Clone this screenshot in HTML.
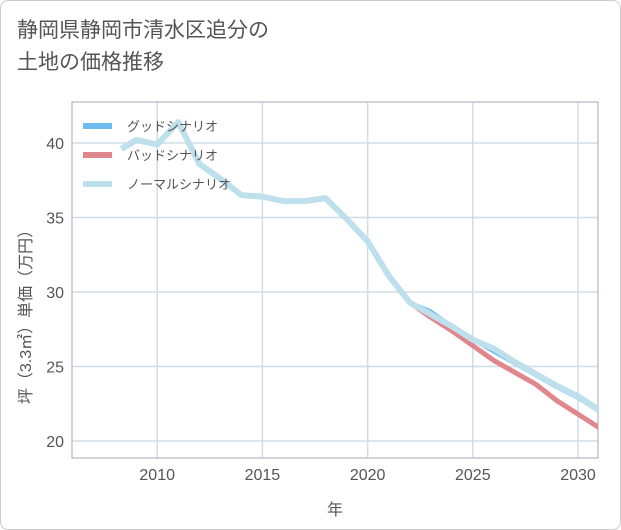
<!DOCTYPE html>
<html><head><meta charset="utf-8"><style>
body{margin:0;background:#fff;}
#wrap{position:relative;width:619px;height:528px;border:1px solid #ccc;border-radius:8px;background:#fff;font-family:"Liberation Sans","Noto Sans CJK JP",sans-serif;overflow:hidden}
#title{position:absolute;left:16px;top:14px;font-size:21px;line-height:32px;color:#555;}
svg{position:absolute;left:0;top:0}
</style></head><body>
<div id="wrap">
<div id="title">静岡県静岡市清水区追分の<br>土地の価格推移</div>
<svg id="chart" width="621" height="530"></svg>
</div>
<script>
const normalYears=[2008.3,2009,2010,2011,2012,2013,2014,2015,2016,2017,2018,2019,2020,2021,2022,2023,2024,2025,2026,2027,2028,2029,2030,2031];
const normalVals=[39.6,40.2,39.9,41.4,38.6,37.6,36.5,36.4,36.1,36.1,36.3,34.9,33.4,31.1,29.3,28.5,27.7,26.8,26.2,25.3,24.5,23.7,23.0,22.1];
const futureYears=[2022,2023,2024,2025,2026,2027,2028,2029,2030,2031];
const goodVals=[29.3,28.7,27.7,26.8,26.0,25.2,24.4,23.6,22.9,22.0];
const badVals=[29.3,28.3,27.4,26.4,25.4,24.6,23.8,22.7,21.8,20.9];
const xTicks=[2010,2015,2020,2025,2030];
const yTicks=[20,25,30,35,40];
const legendLabels=["グッドシナリオ","バッドシナリオ","ノーマルシナリオ"];
const L=71,R=597,T=101,B=457,X0=2005.95,X1=2030.95,Y0=18.86,Y1=42.75;
const sx=v=>L+(v-X0)/(X1-X0)*(R-L);
const sy=v=>B-(v-Y0)/(Y1-Y0)*(B-T);
const NS="http://www.w3.org/2000/svg";
const svg=document.getElementById('chart');
function mk(t,a,p){const e=document.createElementNS(NS,t);for(const k in a)e.setAttribute(k,a[k]);(p||svg).appendChild(e);return e;}
const clip=mk('clipPath',{id:'pc'});mk('rect',{x:L,y:T,width:R-L,height:B-T},clip);
xTicks.forEach(t=>{const l=mk('line',{x1:sx(t),x2:sx(t),y1:T,y2:B,stroke:'#d0dde6','stroke-width':1.5});

const tx=mk('text',{x:sx(t),y:B+22,'text-anchor':'middle','font-size':16,fill:'#555'});tx.textContent=t;
});
yTicks.forEach(t=>{const l=mk('line',{x1:L,x2:R,y1:sy(t),y2:sy(t),stroke:'#d0dde6','stroke-width':1.5});

const tx=mk('text',{x:L-8,y:sy(t)+6,'text-anchor':'end','font-size':16,fill:'#555'});tx.textContent=t;
});
const fr=mk('rect',{x:L,y:T,width:R-L,height:B-T,fill:'none',stroke:'#aab',"stroke-width":1});

function line(xs,ys,c,w,name){const p=mk('polyline',{points:xs.map((x,i)=>sx(x)+','+sy(ys[i])).join(' '),fill:'none',stroke:c,'stroke-width':w,'stroke-linejoin':'round','clip-path':'url(#pc)'});
}
line(futureYears,goodVals,'#6bbcf0',4,'good-scenario-line');
line(futureYears,badVals,'#e0868d',5,'bad-scenario-line');
line(normalYears,normalVals,'#bde0ec',6,'normal-scenario-line');
const lc=['#6bbcf0','#e0868d','#bde0ec'];
legendLabels.forEach((s,i)=>{const y=125+i*29;
const r=mk('rect',{x:82,y:y-3,width:29,height:6,fill:lc[i]});
const t=mk('text',{x:126,y:y+5,'font-size':13,fill:'#555'});t.textContent=s;});
const xt=mk('text',{x:334,y:514,'text-anchor':'middle','font-size':16,fill:'#555'});xt.textContent='年';

const yt=mk('text',{x:0,y:0,'text-anchor':'middle','font-size':16,fill:'#555',transform:'translate(30,312) rotate(-90)'});yt.textContent='坪（3.3㎡）単価（万円）';

</script>
</body></html>
